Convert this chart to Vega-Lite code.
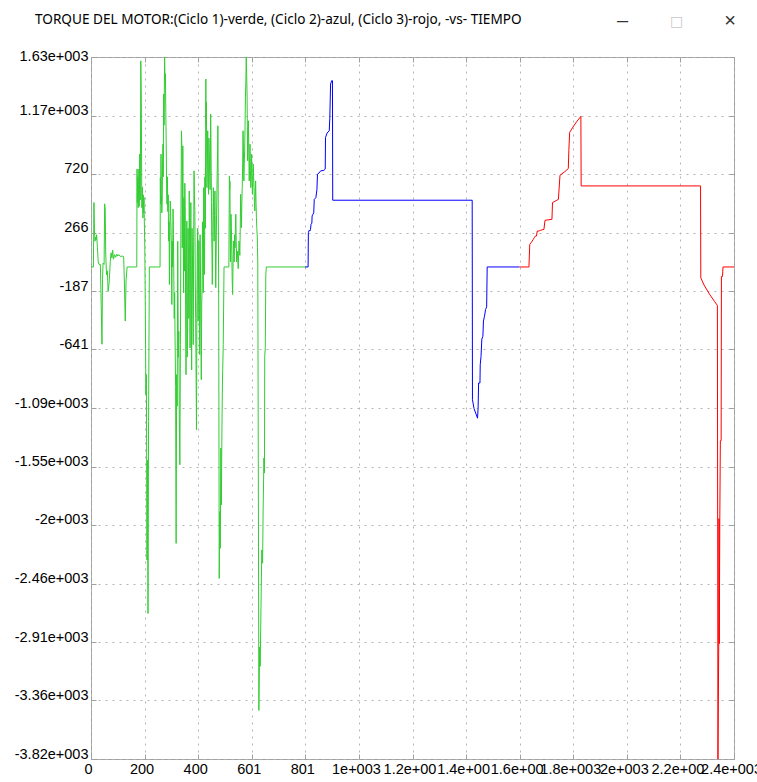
{
  "$schema": "https://vega.github.io/schema/vega-lite/v6.json",
  "width": 643,
  "height": 702,
  "autosize": {"type": "none"},
  "padding": {"left": 91, "top": 57, "right": 23, "bottom": 23},
  "background": "white",
  "title": {
    "text": "TORQUE DEL MOTOR:(Ciclo 1)-verde, (Ciclo 2)-azul, (Ciclo 3)-rojo, -vs- TIEMPO",
    "anchor": "start",
    "frame": "group",
    "dx": -56,
    "dy": 28,
    "offset": 0,
    "baseline": "alphabetic",
    "font": "Noto Sans",
    "fontSize": 13.6,
    "fontWeight": "normal",
    "color": "#000000"
  },
  "config": {
    "view": {"stroke": "#a0a0a0", "strokeWidth": 1}
  },
  "datasets": {
    "torque": [
      {"c": "Ciclo 1", "t": 0, "v": 0},
      {"c": "Ciclo 1", "t": 9, "v": 0},
      {"c": "Ciclo 1", "t": 11, "v": 500},
      {"c": "Ciclo 1", "t": 13, "v": 280},
      {"c": "Ciclo 1", "t": 15, "v": 200},
      {"c": "Ciclo 1", "t": 17, "v": 230},
      {"c": "Ciclo 1", "t": 19, "v": 210},
      {"c": "Ciclo 1", "t": 21, "v": 250},
      {"c": "Ciclo 1", "t": 24, "v": 150},
      {"c": "Ciclo 1", "t": 27, "v": 40},
      {"c": "Ciclo 1", "t": 30, "v": 20},
      {"c": "Ciclo 1", "t": 35, "v": 20},
      {"c": "Ciclo 1", "t": 38, "v": -290},
      {"c": "Ciclo 1", "t": 41, "v": -600},
      {"c": "Ciclo 1", "t": 43, "v": -100},
      {"c": "Ciclo 1", "t": 45, "v": 30},
      {"c": "Ciclo 1", "t": 49, "v": 20},
      {"c": "Ciclo 1", "t": 51, "v": 490},
      {"c": "Ciclo 1", "t": 53, "v": 450},
      {"c": "Ciclo 1", "t": 55, "v": 100},
      {"c": "Ciclo 1", "t": 58, "v": -60},
      {"c": "Ciclo 1", "t": 61, "v": -30},
      {"c": "Ciclo 1", "t": 64, "v": -190},
      {"c": "Ciclo 1", "t": 68, "v": -120},
      {"c": "Ciclo 1", "t": 72, "v": 40},
      {"c": "Ciclo 1", "t": 75, "v": 110},
      {"c": "Ciclo 1", "t": 78, "v": 70},
      {"c": "Ciclo 1", "t": 81, "v": 130},
      {"c": "Ciclo 1", "t": 84, "v": 60},
      {"c": "Ciclo 1", "t": 88, "v": 95},
      {"c": "Ciclo 1", "t": 92, "v": 75},
      {"c": "Ciclo 1", "t": 96, "v": 100},
      {"c": "Ciclo 1", "t": 100, "v": 85},
      {"c": "Ciclo 1", "t": 105, "v": 95},
      {"c": "Ciclo 1", "t": 110, "v": 80},
      {"c": "Ciclo 1", "t": 116, "v": 85},
      {"c": "Ciclo 1", "t": 122, "v": 80},
      {"c": "Ciclo 1", "t": 125, "v": -140},
      {"c": "Ciclo 1", "t": 128, "v": -420},
      {"c": "Ciclo 1", "t": 131, "v": -100},
      {"c": "Ciclo 1", "t": 135, "v": 0},
      {"c": "Ciclo 1", "t": 171, "v": 0},
      {"c": "Ciclo 1", "t": 172, "v": 760},
      {"c": "Ciclo 1", "t": 173, "v": 500},
      {"c": "Ciclo 1", "t": 174, "v": 610},
      {"c": "Ciclo 1", "t": 175, "v": 700},
      {"c": "Ciclo 1", "t": 176, "v": 460},
      {"c": "Ciclo 1", "t": 177, "v": 550},
      {"c": "Ciclo 1", "t": 178, "v": 640},
      {"c": "Ciclo 1", "t": 179, "v": 760},
      {"c": "Ciclo 1", "t": 180, "v": 470},
      {"c": "Ciclo 1", "t": 181, "v": 600},
      {"c": "Ciclo 1", "t": 182, "v": 876},
      {"c": "Ciclo 1", "t": 183, "v": 700},
      {"c": "Ciclo 1", "t": 184, "v": 520},
      {"c": "Ciclo 1", "t": 185, "v": 1000},
      {"c": "Ciclo 1", "t": 186, "v": 1600},
      {"c": "Ciclo 1", "t": 187, "v": 1450},
      {"c": "Ciclo 1", "t": 188, "v": 1278},
      {"c": "Ciclo 1", "t": 189, "v": 800},
      {"c": "Ciclo 1", "t": 190, "v": 460},
      {"c": "Ciclo 1", "t": 191, "v": 550},
      {"c": "Ciclo 1", "t": 192, "v": 620},
      {"c": "Ciclo 1", "t": 193, "v": 500},
      {"c": "Ciclo 1", "t": 194, "v": 380},
      {"c": "Ciclo 1", "t": 195, "v": 560},
      {"c": "Ciclo 1", "t": 196, "v": 460},
      {"c": "Ciclo 1", "t": 197, "v": 420},
      {"c": "Ciclo 1", "t": 198, "v": 540},
      {"c": "Ciclo 1", "t": 199, "v": 380},
      {"c": "Ciclo 1", "t": 201, "v": 149},
      {"c": "Ciclo 1", "t": 203, "v": -344},
      {"c": "Ciclo 1", "t": 205, "v": -991},
      {"c": "Ciclo 1", "t": 207, "v": -836},
      {"c": "Ciclo 1", "t": 209, "v": -2275},
      {"c": "Ciclo 1", "t": 211, "v": -1500},
      {"c": "Ciclo 1", "t": 213, "v": -2690},
      {"c": "Ciclo 1", "t": 215, "v": -1200},
      {"c": "Ciclo 1", "t": 218, "v": 0},
      {"c": "Ciclo 1", "t": 258, "v": 0},
      {"c": "Ciclo 1", "t": 259, "v": 694},
      {"c": "Ciclo 1", "t": 260, "v": 487},
      {"c": "Ciclo 1", "t": 261.5, "v": 876},
      {"c": "Ciclo 1", "t": 263, "v": 560},
      {"c": "Ciclo 1", "t": 264.5, "v": 420},
      {"c": "Ciclo 1", "t": 266, "v": 512},
      {"c": "Ciclo 1", "t": 267.5, "v": 800},
      {"c": "Ciclo 1", "t": 269, "v": 953},
      {"c": "Ciclo 1", "t": 270, "v": 700},
      {"c": "Ciclo 1", "t": 271.5, "v": 1343},
      {"c": "Ciclo 1", "t": 273, "v": 1100},
      {"c": "Ciclo 1", "t": 275, "v": 1633},
      {"c": "Ciclo 1", "t": 276.5, "v": 1450},
      {"c": "Ciclo 1", "t": 278, "v": 1500},
      {"c": "Ciclo 1", "t": 279.5, "v": 1200},
      {"c": "Ciclo 1", "t": 281, "v": 953},
      {"c": "Ciclo 1", "t": 282.5, "v": 600},
      {"c": "Ciclo 1", "t": 284, "v": 487},
      {"c": "Ciclo 1", "t": 285.5, "v": 700},
      {"c": "Ciclo 1", "t": 287, "v": 430},
      {"c": "Ciclo 1", "t": 288.5, "v": 560},
      {"c": "Ciclo 1", "t": 290, "v": 201},
      {"c": "Ciclo 1", "t": 291.5, "v": 350},
      {"c": "Ciclo 1", "t": 293, "v": -136},
      {"c": "Ciclo 1", "t": 294.5, "v": 300},
      {"c": "Ciclo 1", "t": 296, "v": 512},
      {"c": "Ciclo 1", "t": 297.5, "v": 420},
      {"c": "Ciclo 1", "t": 299, "v": 305},
      {"c": "Ciclo 1", "t": 300.5, "v": 100},
      {"c": "Ciclo 1", "t": 302, "v": -292},
      {"c": "Ciclo 1", "t": 303.5, "v": 200},
      {"c": "Ciclo 1", "t": 305, "v": 0},
      {"c": "Ciclo 1", "t": 306.5, "v": 450},
      {"c": "Ciclo 1", "t": 308, "v": 253},
      {"c": "Ciclo 1", "t": 309.5, "v": -100},
      {"c": "Ciclo 1", "t": 311, "v": -400},
      {"c": "Ciclo 1", "t": 312.5, "v": -200},
      {"c": "Ciclo 1", "t": 314, "v": -551},
      {"c": "Ciclo 1", "t": 316, "v": -926},
      {"c": "Ciclo 1", "t": 318, "v": -2146},
      {"c": "Ciclo 1", "t": 320, "v": -836},
      {"c": "Ciclo 1", "t": 322, "v": -1082},
      {"c": "Ciclo 1", "t": 324, "v": 200},
      {"c": "Ciclo 1", "t": 326, "v": -700},
      {"c": "Ciclo 1", "t": 328, "v": -500},
      {"c": "Ciclo 1", "t": 330, "v": -1186},
      {"c": "Ciclo 1", "t": 332, "v": -1536},
      {"c": "Ciclo 1", "t": 334, "v": -600},
      {"c": "Ciclo 1", "t": 336, "v": 400},
      {"c": "Ciclo 1", "t": 338, "v": 1057},
      {"c": "Ciclo 1", "t": 340, "v": 876},
      {"c": "Ciclo 1", "t": 341, "v": 149},
      {"c": "Ciclo 1", "t": 343, "v": 940},
      {"c": "Ciclo 1", "t": 344, "v": 500},
      {"c": "Ciclo 1", "t": 345, "v": 149},
      {"c": "Ciclo 1", "t": 346, "v": -200},
      {"c": "Ciclo 1", "t": 347, "v": 538},
      {"c": "Ciclo 1", "t": 348, "v": 300},
      {"c": "Ciclo 1", "t": 349, "v": -32},
      {"c": "Ciclo 1", "t": 350.5, "v": 650},
      {"c": "Ciclo 1", "t": 352, "v": 409},
      {"c": "Ciclo 1", "t": 353.5, "v": -300},
      {"c": "Ciclo 1", "t": 355, "v": -836},
      {"c": "Ciclo 1", "t": 356.5, "v": 100},
      {"c": "Ciclo 1", "t": 358, "v": 357},
      {"c": "Ciclo 1", "t": 359.5, "v": -700},
      {"c": "Ciclo 1", "t": 361, "v": -473},
      {"c": "Ciclo 1", "t": 362.5, "v": 300},
      {"c": "Ciclo 1", "t": 364, "v": 97},
      {"c": "Ciclo 1", "t": 365.5, "v": -400},
      {"c": "Ciclo 1", "t": 367, "v": 590},
      {"c": "Ciclo 1", "t": 368.5, "v": 200},
      {"c": "Ciclo 1", "t": 370, "v": -629},
      {"c": "Ciclo 1", "t": 371.5, "v": 100},
      {"c": "Ciclo 1", "t": 373, "v": 500},
      {"c": "Ciclo 1", "t": 374.5, "v": -200},
      {"c": "Ciclo 1", "t": 376, "v": -800},
      {"c": "Ciclo 1", "t": 377.5, "v": 300},
      {"c": "Ciclo 1", "t": 379, "v": 97},
      {"c": "Ciclo 1", "t": 380.5, "v": -300},
      {"c": "Ciclo 1", "t": 382, "v": -603},
      {"c": "Ciclo 1", "t": 383.5, "v": 200},
      {"c": "Ciclo 1", "t": 385, "v": 746},
      {"c": "Ciclo 1", "t": 386.5, "v": 550},
      {"c": "Ciclo 1", "t": 388, "v": 435},
      {"c": "Ciclo 1", "t": 389.5, "v": -100},
      {"c": "Ciclo 1", "t": 391, "v": -400},
      {"c": "Ciclo 1", "t": 392.5, "v": -800},
      {"c": "Ciclo 1", "t": 394, "v": -1264},
      {"c": "Ciclo 1", "t": 395.5, "v": -400},
      {"c": "Ciclo 1", "t": 397, "v": 97},
      {"c": "Ciclo 1", "t": 398.5, "v": 300},
      {"c": "Ciclo 1", "t": 400, "v": -421},
      {"c": "Ciclo 1", "t": 401.5, "v": -100},
      {"c": "Ciclo 1", "t": 403, "v": 201},
      {"c": "Ciclo 1", "t": 404.5, "v": -300},
      {"c": "Ciclo 1", "t": 406, "v": -680},
      {"c": "Ciclo 1", "t": 407.5, "v": 250},
      {"c": "Ciclo 1", "t": 409, "v": -32},
      {"c": "Ciclo 1", "t": 410.5, "v": -500},
      {"c": "Ciclo 1", "t": 412, "v": -875},
      {"c": "Ciclo 1", "t": 413.5, "v": -300},
      {"c": "Ciclo 1", "t": 415, "v": -166},
      {"c": "Ciclo 1", "t": 416.5, "v": 350},
      {"c": "Ciclo 1", "t": 418, "v": 149},
      {"c": "Ciclo 1", "t": 419.5, "v": -200},
      {"c": "Ciclo 1", "t": 421, "v": 616},
      {"c": "Ciclo 1", "t": 422.5, "v": 250},
      {"c": "Ciclo 1", "t": 424, "v": -58},
      {"c": "Ciclo 1", "t": 425.5, "v": 700},
      {"c": "Ciclo 1", "t": 427, "v": 300},
      {"c": "Ciclo 1", "t": 428, "v": 900},
      {"c": "Ciclo 1", "t": 429, "v": 1459},
      {"c": "Ciclo 1", "t": 430, "v": 1100},
      {"c": "Ciclo 1", "t": 431, "v": 1278},
      {"c": "Ciclo 1", "t": 432, "v": 900},
      {"c": "Ciclo 1", "t": 433, "v": 616},
      {"c": "Ciclo 1", "t": 434.5, "v": 800},
      {"c": "Ciclo 1", "t": 436, "v": 1057},
      {"c": "Ciclo 1", "t": 437.5, "v": 700},
      {"c": "Ciclo 1", "t": 439, "v": 564},
      {"c": "Ciclo 1", "t": 440.5, "v": 1000},
      {"c": "Ciclo 1", "t": 442, "v": 876},
      {"c": "Ciclo 1", "t": 443.5, "v": 700},
      {"c": "Ciclo 1", "t": 445, "v": 600},
      {"c": "Ciclo 1", "t": 446, "v": 900},
      {"c": "Ciclo 1", "t": 447, "v": 1187},
      {"c": "Ciclo 1", "t": 448, "v": 1000},
      {"c": "Ciclo 1", "t": 449, "v": 746},
      {"c": "Ciclo 1", "t": 450, "v": 500},
      {"c": "Ciclo 1", "t": 451, "v": 227},
      {"c": "Ciclo 1", "t": 452, "v": 100},
      {"c": "Ciclo 1", "t": 453, "v": -136},
      {"c": "Ciclo 1", "t": 454, "v": -50},
      {"c": "Ciclo 1", "t": 455, "v": 300},
      {"c": "Ciclo 1", "t": 456, "v": 450},
      {"c": "Ciclo 1", "t": 457, "v": 616},
      {"c": "Ciclo 1", "t": 458.5, "v": 400},
      {"c": "Ciclo 1", "t": 460, "v": 200},
      {"c": "Ciclo 1", "t": 461.5, "v": 400},
      {"c": "Ciclo 1", "t": 463, "v": 590},
      {"c": "Ciclo 1", "t": 464.5, "v": 200},
      {"c": "Ciclo 1", "t": 466, "v": -161},
      {"c": "Ciclo 1", "t": 467.5, "v": 100},
      {"c": "Ciclo 1", "t": 469, "v": 409},
      {"c": "Ciclo 1", "t": 470.5, "v": 600},
      {"c": "Ciclo 1", "t": 472, "v": 800},
      {"c": "Ciclo 1", "t": 473, "v": 900},
      {"c": "Ciclo 1", "t": 474, "v": 1096},
      {"c": "Ciclo 1", "t": 476, "v": 201},
      {"c": "Ciclo 1", "t": 477, "v": -240},
      {"c": "Ciclo 1", "t": 479, "v": -2418},
      {"c": "Ciclo 1", "t": 481, "v": -1900},
      {"c": "Ciclo 1", "t": 483, "v": -2184},
      {"c": "Ciclo 1", "t": 485, "v": -1406},
      {"c": "Ciclo 1", "t": 487, "v": -1847},
      {"c": "Ciclo 1", "t": 489, "v": -1290},
      {"c": "Ciclo 1", "t": 491, "v": -900},
      {"c": "Ciclo 1", "t": 494, "v": -600},
      {"c": "Ciclo 1", "t": 497, "v": 0},
      {"c": "Ciclo 1", "t": 515, "v": 0},
      {"c": "Ciclo 1", "t": 517, "v": 707},
      {"c": "Ciclo 1", "t": 518, "v": 600},
      {"c": "Ciclo 1", "t": 519, "v": 668},
      {"c": "Ciclo 1", "t": 520, "v": 300},
      {"c": "Ciclo 1", "t": 521, "v": 39},
      {"c": "Ciclo 1", "t": 522, "v": 250},
      {"c": "Ciclo 1", "t": 523, "v": 409},
      {"c": "Ciclo 1", "t": 524.5, "v": 300},
      {"c": "Ciclo 1", "t": 526, "v": 97},
      {"c": "Ciclo 1", "t": 527.5, "v": -100},
      {"c": "Ciclo 1", "t": 529, "v": -214},
      {"c": "Ciclo 1", "t": 530.5, "v": 0},
      {"c": "Ciclo 1", "t": 532, "v": 201},
      {"c": "Ciclo 1", "t": 533.5, "v": 120},
      {"c": "Ciclo 1", "t": 535, "v": 39},
      {"c": "Ciclo 1", "t": 536.5, "v": 250},
      {"c": "Ciclo 1", "t": 538, "v": 149},
      {"c": "Ciclo 1", "t": 539.5, "v": 300},
      {"c": "Ciclo 1", "t": 541, "v": 409},
      {"c": "Ciclo 1", "t": 542.5, "v": 200},
      {"c": "Ciclo 1", "t": 544, "v": 39},
      {"c": "Ciclo 1", "t": 545.5, "v": 100},
      {"c": "Ciclo 1", "t": 547, "v": 123},
      {"c": "Ciclo 1", "t": 548.5, "v": 50},
      {"c": "Ciclo 1", "t": 550, "v": -13},
      {"c": "Ciclo 1", "t": 551.5, "v": 100},
      {"c": "Ciclo 1", "t": 553, "v": 201},
      {"c": "Ciclo 1", "t": 554.5, "v": 150},
      {"c": "Ciclo 1", "t": 556, "v": 90},
      {"c": "Ciclo 1", "t": 557.5, "v": 300},
      {"c": "Ciclo 1", "t": 559, "v": 564},
      {"c": "Ciclo 1", "t": 560.5, "v": 450},
      {"c": "Ciclo 1", "t": 562, "v": 305},
      {"c": "Ciclo 1", "t": 563.5, "v": 500},
      {"c": "Ciclo 1", "t": 565, "v": 616},
      {"c": "Ciclo 1", "t": 566.5, "v": 800},
      {"c": "Ciclo 1", "t": 568, "v": 1057},
      {"c": "Ciclo 1", "t": 569.5, "v": 900},
      {"c": "Ciclo 1", "t": 571, "v": 668},
      {"c": "Ciclo 1", "t": 572.5, "v": 800},
      {"c": "Ciclo 1", "t": 574, "v": 902},
      {"c": "Ciclo 1", "t": 575.5, "v": 1100},
      {"c": "Ciclo 1", "t": 577, "v": 1317},
      {"c": "Ciclo 1", "t": 578.5, "v": 1450},
      {"c": "Ciclo 1", "t": 580, "v": 1633},
      {"c": "Ciclo 1", "t": 581.5, "v": 1500},
      {"c": "Ciclo 1", "t": 583, "v": 1343},
      {"c": "Ciclo 1", "t": 584, "v": 1100},
      {"c": "Ciclo 1", "t": 585, "v": 824},
      {"c": "Ciclo 1", "t": 586.5, "v": 1000},
      {"c": "Ciclo 1", "t": 588, "v": 1135},
      {"c": "Ciclo 1", "t": 589.5, "v": 900},
      {"c": "Ciclo 1", "t": 591, "v": 668},
      {"c": "Ciclo 1", "t": 592.5, "v": 800},
      {"c": "Ciclo 1", "t": 594, "v": 953},
      {"c": "Ciclo 1", "t": 595.5, "v": 750},
      {"c": "Ciclo 1", "t": 597, "v": 616},
      {"c": "Ciclo 1", "t": 598.5, "v": 700},
      {"c": "Ciclo 1", "t": 600, "v": 876},
      {"c": "Ciclo 1", "t": 601.5, "v": 700},
      {"c": "Ciclo 1", "t": 603, "v": 564},
      {"c": "Ciclo 1", "t": 604.5, "v": 650},
      {"c": "Ciclo 1", "t": 606, "v": 798},
      {"c": "Ciclo 1", "t": 607.5, "v": 700},
      {"c": "Ciclo 1", "t": 609, "v": 616},
      {"c": "Ciclo 1", "t": 610.5, "v": 500},
      {"c": "Ciclo 1", "t": 612, "v": 435},
      {"c": "Ciclo 1", "t": 613.5, "v": 550},
      {"c": "Ciclo 1", "t": 615, "v": 668},
      {"c": "Ciclo 1", "t": 616.5, "v": 500},
      {"c": "Ciclo 1", "t": 618, "v": 383},
      {"c": "Ciclo 1", "t": 619.5, "v": 300},
      {"c": "Ciclo 1", "t": 621, "v": 240},
      {"c": "Ciclo 1", "t": 622, "v": 150},
      {"c": "Ciclo 1", "t": 623, "v": 39},
      {"c": "Ciclo 1", "t": 625, "v": -1500},
      {"c": "Ciclo 1", "t": 627, "v": -3443},
      {"c": "Ciclo 1", "t": 630, "v": -2950},
      {"c": "Ciclo 1", "t": 632, "v": -3100},
      {"c": "Ciclo 1", "t": 635, "v": -2638},
      {"c": "Ciclo 1", "t": 638, "v": -2197},
      {"c": "Ciclo 1", "t": 641, "v": -2300},
      {"c": "Ciclo 1", "t": 643, "v": -1886},
      {"c": "Ciclo 1", "t": 646, "v": -1484},
      {"c": "Ciclo 1", "t": 648, "v": -1600},
      {"c": "Ciclo 1", "t": 649, "v": -693},
      {"c": "Ciclo 1", "t": 651, "v": -629},
      {"c": "Ciclo 1", "t": 653, "v": -58},
      {"c": "Ciclo 1", "t": 655, "v": 0},
      {"c": "Ciclo 1", "t": 804, "v": 0},
      {"c": "Ciclo 2", "t": 800, "v": 0},
      {"c": "Ciclo 2", "t": 811, "v": 0},
      {"c": "Ciclo 2", "t": 812, "v": 266},
      {"c": "Ciclo 2", "t": 815, "v": 285},
      {"c": "Ciclo 2", "t": 818, "v": 279},
      {"c": "Ciclo 2", "t": 820, "v": 292},
      {"c": "Ciclo 2", "t": 822, "v": 331},
      {"c": "Ciclo 2", "t": 825, "v": 340},
      {"c": "Ciclo 2", "t": 826, "v": 396},
      {"c": "Ciclo 2", "t": 829, "v": 409},
      {"c": "Ciclo 2", "t": 832, "v": 420},
      {"c": "Ciclo 2", "t": 834, "v": 525},
      {"c": "Ciclo 2", "t": 840, "v": 538},
      {"c": "Ciclo 2", "t": 844, "v": 600},
      {"c": "Ciclo 2", "t": 846, "v": 720},
      {"c": "Ciclo 2", "t": 852, "v": 730},
      {"c": "Ciclo 2", "t": 858, "v": 746},
      {"c": "Ciclo 2", "t": 870, "v": 750},
      {"c": "Ciclo 2", "t": 875, "v": 760},
      {"c": "Ciclo 2", "t": 876, "v": 1005},
      {"c": "Ciclo 2", "t": 882, "v": 1040},
      {"c": "Ciclo 2", "t": 890, "v": 1057},
      {"c": "Ciclo 2", "t": 892, "v": 1150},
      {"c": "Ciclo 2", "t": 895, "v": 1420},
      {"c": "Ciclo 2", "t": 899, "v": 1446},
      {"c": "Ciclo 2", "t": 902, "v": 1446},
      {"c": "Ciclo 2", "t": 903, "v": 518},
      {"c": "Ciclo 2", "t": 1424, "v": 518},
      {"c": "Ciclo 2", "t": 1425, "v": -1031},
      {"c": "Ciclo 2", "t": 1431, "v": -1100},
      {"c": "Ciclo 2", "t": 1437, "v": -1135},
      {"c": "Ciclo 2", "t": 1444, "v": -1174},
      {"c": "Ciclo 2", "t": 1446, "v": -1100},
      {"c": "Ciclo 2", "t": 1448, "v": -901},
      {"c": "Ciclo 2", "t": 1453, "v": -901},
      {"c": "Ciclo 2", "t": 1454, "v": -760},
      {"c": "Ciclo 2", "t": 1457, "v": -694},
      {"c": "Ciclo 2", "t": 1460, "v": -560},
      {"c": "Ciclo 2", "t": 1464, "v": -538},
      {"c": "Ciclo 2", "t": 1466, "v": -420},
      {"c": "Ciclo 2", "t": 1470, "v": -382},
      {"c": "Ciclo 2", "t": 1474, "v": -330},
      {"c": "Ciclo 2", "t": 1478, "v": -310},
      {"c": "Ciclo 2", "t": 1480, "v": 0},
      {"c": "Ciclo 2", "t": 1600, "v": 0},
      {"c": "Ciclo 3", "t": 1600, "v": 0},
      {"c": "Ciclo 3", "t": 1636, "v": 0},
      {"c": "Ciclo 3", "t": 1639, "v": 175},
      {"c": "Ciclo 3", "t": 1644, "v": 188},
      {"c": "Ciclo 3", "t": 1648, "v": 201},
      {"c": "Ciclo 3", "t": 1652, "v": 214},
      {"c": "Ciclo 3", "t": 1656, "v": 227},
      {"c": "Ciclo 3", "t": 1660, "v": 240},
      {"c": "Ciclo 3", "t": 1664, "v": 240},
      {"c": "Ciclo 3", "t": 1667, "v": 279},
      {"c": "Ciclo 3", "t": 1673, "v": 279},
      {"c": "Ciclo 3", "t": 1680, "v": 285},
      {"c": "Ciclo 3", "t": 1692, "v": 292},
      {"c": "Ciclo 3", "t": 1696, "v": 362},
      {"c": "Ciclo 3", "t": 1722, "v": 370},
      {"c": "Ciclo 3", "t": 1724, "v": 500},
      {"c": "Ciclo 3", "t": 1746, "v": 525},
      {"c": "Ciclo 3", "t": 1752, "v": 712},
      {"c": "Ciclo 3", "t": 1770, "v": 740},
      {"c": "Ciclo 3", "t": 1783, "v": 764},
      {"c": "Ciclo 3", "t": 1785, "v": 902},
      {"c": "Ciclo 3", "t": 1788, "v": 1044},
      {"c": "Ciclo 3", "t": 1800, "v": 1085},
      {"c": "Ciclo 3", "t": 1815, "v": 1130},
      {"c": "Ciclo 3", "t": 1830, "v": 1169},
      {"c": "Ciclo 3", "t": 1831, "v": 629},
      {"c": "Ciclo 3", "t": 2277, "v": 629},
      {"c": "Ciclo 3", "t": 2278, "v": -84},
      {"c": "Ciclo 3", "t": 2290, "v": -140},
      {"c": "Ciclo 3", "t": 2310, "v": -210},
      {"c": "Ciclo 3", "t": 2330, "v": -270},
      {"c": "Ciclo 3", "t": 2340, "v": -299},
      {"c": "Ciclo 3", "t": 2342, "v": -3820},
      {"c": "Ciclo 3", "t": 2345, "v": -2925},
      {"c": "Ciclo 3", "t": 2346, "v": -1953},
      {"c": "Ciclo 3", "t": 2347, "v": -2925},
      {"c": "Ciclo 3", "t": 2349, "v": -1953},
      {"c": "Ciclo 3", "t": 2351, "v": -1349},
      {"c": "Ciclo 3", "t": 2354, "v": -1349},
      {"c": "Ciclo 3", "t": 2355, "v": -74},
      {"c": "Ciclo 3", "t": 2359, "v": -74},
      {"c": "Ciclo 3", "t": 2361, "v": 0},
      {"c": "Ciclo 3", "t": 2402, "v": 0}
    ]
  },
  "layer": [
    {
      "data": {"name": "torque"},
      "mark": {"type": "line", "strokeWidth": 1, "strokeJoin": "bevel", "clip": true},
      "encoding": {
        "x": {
          "field": "t",
          "type": "quantitative",
          "scale": {"domain": [0, 2402], "nice": false, "zero": false},
          "axis": {
            "orient": "bottom",
            "title": "\u00d7",
            "titleX": 638.5,
            "titleY": -733,
            "titleAlign": "center",
            "titleAnchor": null,
            "titleBaseline": "alphabetic",
            "titleFont": "Liberation Sans",
            "titleFontSize": 20,
            "titleFontWeight": "normal",
            "titleColor": "#333333",
            "values": [0, 200.17, 400.33, 600.5, 800.67, 1000.83, 1201, 1401.17, 1601.33, 1801.5, 2001.67, 2201.83, 2402],
            "labelExpr": "['0','200','400','601','801','1e+003','1.2e+00\u2007','1.4e+00\u2007','1.6e+00\u2007','1.8e+003','2e+003','2.2e+00\u2007','2.4e+003'][round(datum.value/200.1667)]",
            "domain": false,
            "ticks": true,
            "tickSize": -5,
            "tickColor": "#a0a0a0",
            "labelPadding": 8,
            "labelOffset": -3,
            "labelFont": "Liberation Sans",
            "labelFontSize": 14.5,
            "labelColor": "#000000",
            "labelOverlap": false,
            "labelBound": false,
            "labelFlush": false,
            "grid": true,
            "gridColor": "#b4b4b4",
            "gridDash": [2, 5]
          }
        },
        "y": {
          "field": "v",
          "type": "quantitative",
          "scale": {"domain": [-3820, 1630], "nice": false, "zero": false},
          "axis": {
            "orient": "left",
            "title": null,
            "values": [1630, 1175.83, 721.67, 267.5, -186.67, -640.83, -1095, -1549.17, -2003.33, -2457.5, -2911.67, -3365.83, -3820],
            "labelExpr": "['1.63e+003','1.17e+003','720','266','-187','-641','-1.09e+003','-1.55e+003','-2e+003','-2.46e+003','-2.91e+003','-3.36e+003','-3.82e+003'][round((1630-datum.value)/454.1667)]",
            "domain": false,
            "ticks": true,
            "tickSize": -5,
            "tickColor": "#a0a0a0",
            "labelPadding": 8,
            "labelBaseline": "alphabetic",
            "labelOffset": {"condition": {"test": "datum.value > 1600", "value": 3}, "value": -1},
            "labelFont": "Liberation Sans",
            "labelFontSize": 14.5,
            "labelColor": "#000000",
            "labelOverlap": false,
            "labelBound": false,
            "labelFlush": false,
            "grid": true,
            "gridColor": "#b4b4b4",
            "gridDash": [2, 5]
          }
        },
        "color": {
          "field": "c",
          "type": "nominal",
          "scale": {"domain": ["Ciclo 1", "Ciclo 2", "Ciclo 3"], "range": ["#32cd32", "#0000ff", "#ff0000"]},
          "legend": null
        }
      }
    },
    {
      "data": {"name": "torque"},
      "mark": {"type": "point", "opacity": 0},
      "encoding": {
        "x": {
          "field": "t",
          "type": "quantitative",
          "scale": {"domain": [0, 2402], "nice": false, "zero": false},
          "axis": {
            "orient": "top",
            "title": "\u2013",
            "titleX": 531,
            "titleY": -31,
            "titleAlign": "center",
            "titleAnchor": null,
            "titleBaseline": "alphabetic",
            "titleFont": "Liberation Sans",
            "titleFontSize": 20,
            "titleFontWeight": "normal",
            "titleColor": "#333333",
            "values": [0, 200.17, 400.33, 600.5, 800.67, 1000.83, 1201, 1401.17, 1601.33, 1801.5, 2001.67, 2201.83, 2402],
            "labels": false,
            "domain": false,
            "grid": false,
            "ticks": true,
            "tickSize": -5,
            "tickColor": "#a0a0a0"
          }
        },
        "y": {
          "field": "v",
          "type": "quantitative",
          "scale": {"domain": [-3820, 1630], "nice": false, "zero": false},
          "axis": {
            "orient": "right",
            "title": "\u25a1",
            "titleX": -58,
            "titleY": -31.5,
            "titleAngle": 0,
            "titleAlign": "center",
            "titleBaseline": "alphabetic",
            "titleFont": "DejaVu Sans",
            "titleFontSize": 14,
            "titleFontWeight": "normal",
            "titleColor": "#c8c8c8",
            "values": [1630, 1175.83, 721.67, 267.5, -186.67, -640.83, -1095, -1549.17, -2003.33, -2457.5, -2911.67, -3365.83, -3820],
            "labels": false,
            "domain": false,
            "grid": false,
            "ticks": true,
            "tickSize": -5,
            "tickColor": "#a0a0a0"
          }
        }
      }
    }
  ],
  "resolve": {"axis": {"x": "independent", "y": "independent"}}
}
